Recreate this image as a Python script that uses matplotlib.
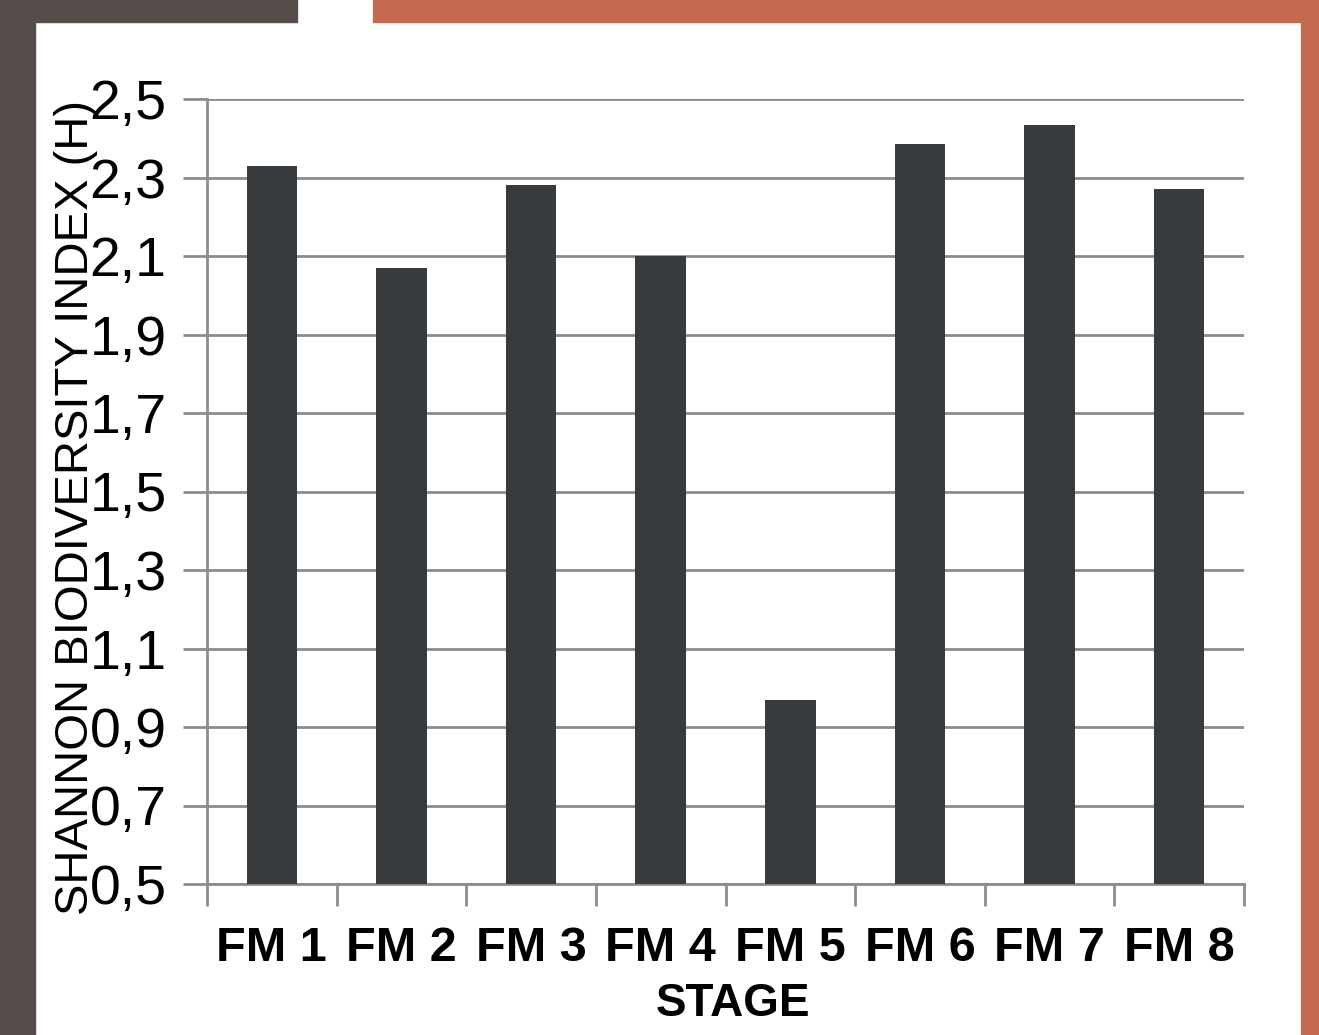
import matplotlib.pyplot as plt
import numpy as np
from matplotlib.patches import Rectangle

stages = ["FM 1", "FM 2", "FM 3", "FM 4", "FM 5", "FM 6", "FM 7", "FM 8"]
shannon_h = [2.33, 2.07, 2.28, 2.10, 0.97, 2.385, 2.435, 2.27]
y_ticks = [0.5, 0.7, 0.9, 1.1, 1.3, 1.5, 1.7, 1.9, 2.1, 2.3, 2.5]

W, H = 1319, 1035
fig = plt.figure(figsize=(W / 100, H / 100), dpi=100)
fig.patch.set_facecolor("white")

# slide frame strips
brown = "#564c4a"
orange = "#c46a50"
fig.patches.append(Rectangle((0, 0), 35 / W, 1, transform=fig.transFigure, color=brown, zorder=0))
fig.patches.append(Rectangle((0, 1 - 22 / H), 297 / W, 22 / H, transform=fig.transFigure, color=brown, zorder=0))
fig.patches.append(Rectangle((373 / W, 1 - 22 / H), 1 - 373 / W, 22 / H, transform=fig.transFigure, color=orange, zorder=0))
fig.patches.append(Rectangle((1301 / W, 0), 18 / W, 1, transform=fig.transFigure, color=orange, zorder=0))

ax = fig.add_axes([207 / W, 1 - 884 / H, (1244 - 207) / W, (884 - 99) / H])
x = np.arange(len(stages))
ax.bar(x, shannon_h, width=0.39, color="#373b3e", zorder=3, bottom=0)
ax.set_xlim(-0.5, len(stages) - 0.5)
ax.set_ylim(0.5, 2.5)

font = ["Liberation Sans", "DejaVu Sans"]
ax.set_yticks(y_ticks)
ax.set_yticklabels([f"{v:.1f}".replace(".", ",") for v in y_ticks],
                   fontsize=40, family=font)
ax.set_xticks(np.arange(len(stages) + 1) - 0.5, minor=False)
ax.set_xticklabels([])
ax.set_xticks(x, minor=True)
ax.set_xticklabels(stages, minor=True, fontsize=35, fontweight="bold", family=font)

grid_col = "#8c8c8c"
ax.grid(axis="y", color=grid_col, linewidth=2, zorder=0)
ax.tick_params(axis="y", length=17, width=2, color=grid_col, pad=12)
ax.tick_params(axis="x", which="major", length=16, width=2, color=grid_col)
ax.tick_params(axis="x", which="minor", length=0, pad=30)
for side in ["top", "right"]:
    ax.spines[side].set_visible(False)
for side in ["left", "bottom"]:
    ax.spines[side].set_color(grid_col)
    ax.spines[side].set_linewidth(2)

ax.set_xlabel("STAGE", fontsize=33, fontweight="bold", family=font)
ax.xaxis.set_label_coords(0.507, -0.125)
ax.set_ylabel("SHANNON BIODIVERSITY INDEX (H)", fontsize=34, family=font)
ax.yaxis.set_label_coords(-0.105, 0.48)

fig.savefig("out.png", dpi=100)
